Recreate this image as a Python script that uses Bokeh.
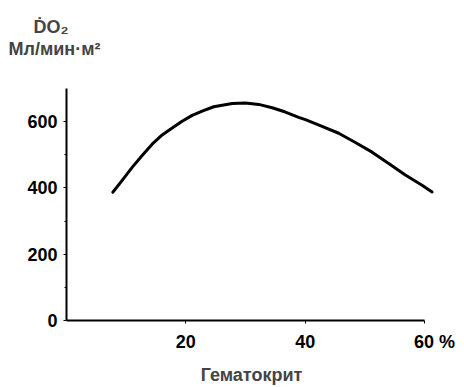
from bokeh.plotting import figure
from bokeh.models import Range1d, FixedTicker, Title
from bokeh.embed import file_html
from bokeh.resources import INLINE

hematocrit = [7.76, 9.33, 11.0, 12.68, 14.35, 16.03, 17.71, 19.38, 21.06, 22.73, 24.67,
              27.76, 29.98, 32.21, 34.46, 36.68, 38.91, 40.03, 42.83, 45.61, 48.41,
              51.21, 53.99, 56.78, 59.58, 61.26]
do2 = [387, 423, 462, 498, 532, 560, 581, 601, 619, 632, 645,
       655, 656, 652, 642, 629, 613, 606, 586, 565, 537,
       508, 474, 439, 408, 388]
y_ticks = [0, 200, 400, 600]
y_minor = [100, 300, 500]
x_ticks = [20, 40, 60]
x_tick_labels = {60: "\u2007\u200760 %"}

FONT = "Liberation Sans"

p = figure(width=464, height=387, output_backend="svg", toolbar_location=None,
           x_range=Range1d(0, 62), y_range=Range1d(0, 700),
           min_border_left=66, min_border_right=28, min_border_top=88, min_border_bottom=61)
p.outline_line_color = None
p.grid.visible = False

p.line(hematocrit, do2, line_color="black", line_width=3, line_join="round", line_cap="round")

for ax in (p.xaxis, p.yaxis):
    ax.axis_line_width = 2
    ax.axis_line_color = "black"
    ax.major_tick_line_color = "black"
    ax.major_tick_in = 0
    ax.major_tick_out = 3
    ax.minor_tick_line_color = None
    ax.major_label_text_font = FONT
    ax.major_label_text_font_size = "18px"
    ax.major_label_text_font_style = "bold"
    ax.major_label_text_color = "black"

p.xaxis.bounds = (0, 60)
p.xaxis.ticker = FixedTicker(ticks=x_ticks)
p.xaxis.major_label_overrides = x_tick_labels
p.yaxis.ticker = FixedTicker(ticks=y_ticks, minor_ticks=y_minor)
p.yaxis.minor_tick_line_color = "black"
p.yaxis.minor_tick_in = 0
p.yaxis.minor_tick_out = 2
p.xaxis.major_label_standoff = 8
p.yaxis.major_label_standoff = 6

p.xaxis.axis_label = "Гематокрит"
p.xaxis.axis_label_text_font = FONT
p.xaxis.axis_label_text_font_size = "18px"
p.xaxis.axis_label_text_font_style = "bold"
p.xaxis.axis_label_standoff = 10

t1 = Title(text="Мл/мин·м²", align="left", offset=-58, standoff=60,
           text_font=FONT, text_font_size="18px", text_font_style="bold")
t2 = Title(text="ḊO₂", align="left", offset=-33, standoff=-60,
           text_font=FONT, text_font_size="18px", text_font_style="bold")
p.add_layout(t1, "above")
p.add_layout(t2, "above")

open("out.html", "w").write(file_html(p, INLINE))
